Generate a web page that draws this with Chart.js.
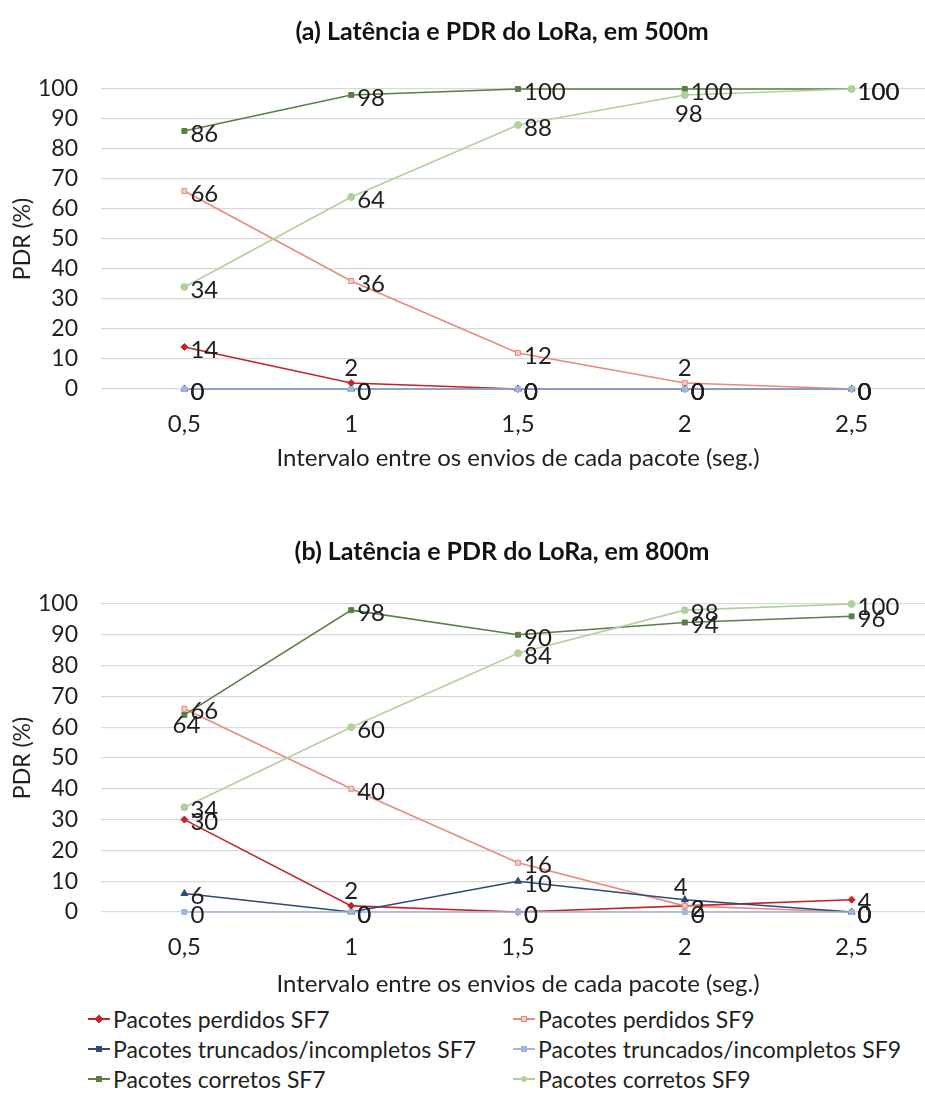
<!DOCTYPE html>
<html lang="pt-BR">
<head>
<meta charset="utf-8">
<title>Latência e PDR do LoRa</title>
<script src="https://cdn.jsdelivr.net/npm/chart.js@4.4.1/dist/chart.umd.min.js"></script>
<style>
  html, body { margin: 0; padding: 0; background: #fff; overflow: hidden; }
  body { width: 925px; height: 1119px; position: relative; font-family: Lato, "Open Sans", sans-serif; }
  .chart-box { position: absolute; left: 0; }
  #box500 { top: 0; }
  #box800 { top: 475px; }
  .chart-title {
    position: absolute; left: 0; width: 1004px; text-align: center;
    font-size: 25px; font-weight: bold; color: #111; line-height: 30px; white-space: nowrap;
  }
  #title500 { top: 15px; }
  #title800 { top: 535px; }
  #legend {
    position: absolute; top: 1004px; left: 88px;
    display: grid; grid-template-columns: 425px 400px; grid-auto-rows: 30px;
    font-size: 23px; color: #1f1f1f;
  }
  .item { display: flex; align-items: center; white-space: nowrap; }
  .swatch { position: relative; width: 22px; height: 14px; margin-right: 3px; flex: none; }
  .swatch .ln { position: absolute; left: 0; right: 0; top: 6px; height: 2px; }
  .swatch .mk { position: absolute; left: 8px; top: 4px; width: 6px; height: 6px; }
</style>
</head>
<body>
<div class="chart-box" id="box500"><canvas id="chart500" width="940" height="475"></canvas></div>
<div class="chart-box" id="box800"><canvas id="chart800" width="940" height="526"></canvas></div>
<div class="chart-title" id="title500">(a) Latência e PDR do LoRa, em 500m</div>
<div class="chart-title" id="title800">(b) Latência e PDR do LoRa, em 800m</div>
<div id="legend"></div>

<script>
'use strict';

/* --------------------------------------------------------------------------
   DATA
   -------------------------------------------------------------------------- */
const INTERVALOS = ['0,5', '1', '1,5', '2', '2,5'];

// 500 m
const PERDIDOS_SF7_500  = [14, 2, 0, 0, 0];
const PERDIDOS_SF9_500  = [66, 36, 12, 2, 0];
const TRUNCADOS_SF7_500 = [0, 0, 0, 0, 0];
const TRUNCADOS_SF9_500 = [0, 0, 0, 0, 0];
const CORRETOS_SF7_500  = [86, 98, 100, 100, 100];
const CORRETOS_SF9_500  = [34, 64, 88, 98, 100];

// 800 m
const PERDIDOS_SF7_800  = [30, 2, 0, 2, 4];
const PERDIDOS_SF9_800  = [66, 40, 16, 2, 0];
const TRUNCADOS_SF7_800 = [6, 0, 10, 4, 0];
const TRUNCADOS_SF9_800 = [0, 0, 0, 0, 0];
const CORRETOS_SF7_800  = [64, 98, 90, 94, 96];
const CORRETOS_SF9_800  = [34, 60, 84, 98, 100];

/* --------------------------------------------------------------------------
   SERIES STYLES (legend order)
   -------------------------------------------------------------------------- */
const SERIES = [
    { key: 'perdidosSF7',  label: 'Pacotes perdidos SF7',              color: '#C3232B', fill: '#C3232B', point: 'rectRot',  radius: 3.5 },
    { key: 'perdidosSF9',  label: 'Pacotes perdidos SF9',              color: '#EA8A7E', fill: '#F7CBC3', point: 'rect',     radius: 3.5 },
    { key: 'truncadosSF7', label: 'Pacotes truncados/incompletos SF7', color: '#2E4A78', fill: '#2E4A78', point: 'triangle', radius: 4 },
    { key: 'truncadosSF9', label: 'Pacotes truncados/incompletos SF9', color: '#9FB5DA', fill: '#9FB5DA', point: 'rect',     radius: 3.5 },
    { key: 'corretosSF7',  label: 'Pacotes corretos SF7',              color: '#5B7D48', fill: '#5B7D48', point: 'rect',     radius: 3.5 },
    { key: 'corretosSF9',  label: 'Pacotes corretos SF9',              color: '#B2D09D', fill: '#B2D09D', point: 'circle',   radius: 3.5 },
];

// value labels sit to the right of the point unless listed here
const LABEL_POS_500 = { 'perdidosSF7:1': 'above', 'perdidosSF9:3': 'above', 'corretosSF9:3': 'below' };
const LABEL_POS_800 = { 'corretosSF7:0': 'belowTight', 'perdidosSF7:1': 'above', 'truncadosSF7:3': 'aboveLeft' };

const TEXT = '#1f1f1f';
const GRID = '#D9D9D9';
const FONT = 'Lato, "Open Sans", sans-serif';

/* --------------------------------------------------------------------------
   VALUE LABEL PLUGIN
   -------------------------------------------------------------------------- */
const pointLabels = {
    id: 'pointLabels',
    afterDatasetsDraw(chart, args, opts) {
        const ctx = chart.ctx;
        const place = opts.placement || {};
        ctx.save();
        ctx.font = '24px ' + FONT;
        ctx.fillStyle = TEXT;
        ctx.textBaseline = 'middle';
        chart.data.datasets.forEach((ds, di) => {
            const meta = chart.getDatasetMeta(di);
            meta.data.forEach((pt, i) => {
                const txt = String(ds.data[i]);
                const pos = place[ds.key + ':' + i] || 'right';
                let x = pt.x, y = pt.y;
                if (pos === 'right') { ctx.textAlign = 'left'; x += 6; y += 3; }
                else if (pos === 'above') { ctx.textAlign = 'center'; y -= 15; }
                else if (pos === 'aboveLeft') { ctx.textAlign = 'center'; x -= 4; y -= 12; }
                else if (pos === 'below') { ctx.textAlign = 'center'; x += 4; y += 19; }
                else if (pos === 'belowTight') { ctx.textAlign = 'center'; x += 2; y += 10; }
                ctx.fillText(txt, x, y);
            });
        });
        ctx.restore();
    },
};

/* --------------------------------------------------------------------------
   CHART BUILDER
   -------------------------------------------------------------------------- */
function buildDatasets(values) {
    return SERIES.map((s, i) => ({
        key: s.key,
        label: s.label,
        data: values[i],
        borderColor: s.color,
        backgroundColor: s.fill,
        pointBorderColor: s.color,
        pointBackgroundColor: s.fill,
        pointStyle: s.point,
        pointRadius: s.radius,
        pointBorderWidth: 1,
        borderWidth: 1.6,
        tension: 0,
        fill: false,
        clip: false,
        order: SERIES.length - i,   // later series on top
    }));
}

function renderChart(canvasId, values, placement, topPad, xHeight) {
    const ctx = document.getElementById(canvasId).getContext('2d');
    return new Chart(ctx, {
        type: 'line',
        data: { labels: INTERVALOS, datasets: buildDatasets(values) },
        plugins: [pointLabels],
        options: {
            responsive: false,
            animation: false,
            layout: { padding: { top: topPad, left: 0, right: 3, bottom: 0 } },
            plugins: {
                legend: { display: false },
                tooltip: { enabled: false },
                title: { display: false },
                pointLabels: { placement },
            },
            scales: {
                x: {
                    offset: true,
                    grid: { display: false, drawTicks: false },
                    border: { display: false },
                    ticks: { color: TEXT, font: { family: FONT, size: 24 }, padding: 21, maxRotation: 0 },
                    title: {
                        display: true,
                        text: 'Intervalo entre os envios de cada pacote (seg.)',
                        color: TEXT,
                        font: { family: FONT, size: 24 },
                        padding: { top: 0, bottom: 2 },
                    },
                    afterFit: s => { s.height = xHeight; },
                },
                y: {
                    min: 0,
                    max: 100,
                    ticks: { stepSize: 10, autoSkip: false, color: TEXT, font: { family: FONT, size: 23 }, padding: 23 },
                    grid: { color: GRID, lineWidth: 1.2, drawTicks: false },
                    border: { display: false },
                    title: {
                        display: true,
                        text: 'PDR (%)',
                        color: TEXT,
                        font: { family: FONT, size: 23 },
                        padding: { top: 9, bottom: 0 },
                    },
                    afterFit: s => { s.width = 101; },
                },
            },
        },
    });
}

renderChart('chart500',
    [PERDIDOS_SF7_500, PERDIDOS_SF9_500, TRUNCADOS_SF7_500, TRUNCADOS_SF9_500, CORRETOS_SF7_500, CORRETOS_SF9_500],
    LABEL_POS_500, 89, 86);

renderChart('chart800',
    [PERDIDOS_SF7_800, PERDIDOS_SF9_800, TRUNCADOS_SF7_800, TRUNCADOS_SF9_800, CORRETOS_SF7_800, CORRETOS_SF9_800],
    LABEL_POS_800, 129, 89);

/* --------------------------------------------------------------------------
   SHARED LEGEND (two columns, row-major like the series order)
   -------------------------------------------------------------------------- */
const legendEl = document.getElementById('legend');
SERIES.forEach(s => {
    const item = document.createElement('div');
    item.className = 'item';
    const sw = document.createElement('span');
    sw.className = 'swatch';
    const ln = document.createElement('span');
    ln.className = 'ln';
    ln.style.background = s.color;
    const mk = document.createElement('span');
    mk.className = 'mk';
    mk.style.background = s.fill;
    mk.style.border = '1px solid ' + s.color;
    mk.style.boxSizing = 'border-box';
    if (s.point === 'circle') mk.style.borderRadius = '50%';
    if (s.point === 'rectRot') mk.style.transform = 'rotate(45deg)';
    sw.appendChild(ln);
    sw.appendChild(mk);
    item.appendChild(sw);
    item.appendChild(document.createTextNode(s.label));
    legendEl.appendChild(item);
});
</script>
</body>
</html>
